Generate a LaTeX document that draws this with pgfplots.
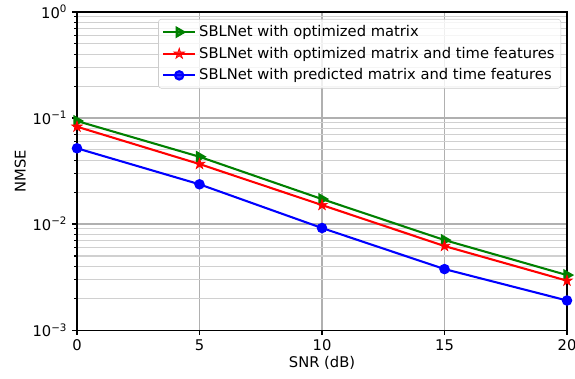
\documentclass[border=0pt]{standalone}
\usepackage{pgfplots}
\pgfplotsset{compat=1.18}
\usepackage{fontspec}
\setmainfont{DejaVu Sans}
\definecolor{mgreen}{HTML}{008000}
\definecolor{gridc}{HTML}{B0B0B0}
\pgfdeclareplotmark{fstar}{%
 \pgfpathmoveto{\pgfqpointpolar{90}{\pgfplotmarksize}}%
 \pgfpathlineto{\pgfqpointpolar{126}{0.382\pgfplotmarksize}}%
 \pgfpathlineto{\pgfqpointpolar{162}{\pgfplotmarksize}}%
 \pgfpathlineto{\pgfqpointpolar{198}{0.382\pgfplotmarksize}}%
 \pgfpathlineto{\pgfqpointpolar{234}{\pgfplotmarksize}}%
 \pgfpathlineto{\pgfqpointpolar{270}{0.382\pgfplotmarksize}}%
 \pgfpathlineto{\pgfqpointpolar{306}{\pgfplotmarksize}}%
 \pgfpathlineto{\pgfqpointpolar{342}{0.382\pgfplotmarksize}}%
 \pgfpathlineto{\pgfqpointpolar{18}{\pgfplotmarksize}}%
 \pgfpathlineto{\pgfqpointpolar{54}{0.382\pgfplotmarksize}}%
 \pgfpathclose\pgfusepathqfillstroke}
\begin{document}
\begin{tikzpicture}
\begin{axis}[
  width=352.8pt, height=229pt, scale only axis,
  xmin=0, xmax=20, ymin=1e-3, ymax=1,
  ymode=log,
  xtick={0,5,10,15,20},
  ytick={1e-3,1e-2,1e-1,1},
  yticklabels={10\textsuperscript{−3},10\textsuperscript{−2},10\textsuperscript{−1},10\textsuperscript{0}},
  /pgf/number format/assume math mode=true,
  tick align=outside, tick pos=left,
  major tick length=3.5pt, minor tick length=2pt,
  every tick/.style={black, line width=0.8pt},
  axis line style={line width=0.8pt},
  grid=both,
  major grid style={gridc, line width=0.8pt},
  minor grid style={gridc!60, line width=0.8pt},
  minor x tick num=0,
  xlabel={SNR (dB)}, ylabel={NMSE},
  tick label style={font=\fontsize{10.6}{12.5}\selectfont},
  label style={font=\fontsize{10.6}{12.5}\selectfont},
  xlabel style={yshift=3pt},
  ylabel style={yshift=-2pt},
  legend style={at={(0.988,0.978)}, anchor=north east, draw=gray!40, rounded corners=2pt, fill=white, fill opacity=0.8, text opacity=1, font=\fontsize{10.6}{12.5}\selectfont, inner sep=2.5pt, row sep=2pt},
  legend cell align=left,
  legend image code/.code={\draw[mark repeat=2,mark phase=2,#1] plot coordinates {(0cm,0cm) (0.41cm,0cm) (0.82cm,0cm)};},
]
\addplot[mgreen, line width=1.5pt, mark=triangle*, mark size=3.6pt, mark options={rotate=-90, solid}] coordinates {
(0,0.0937) (5,0.0431) (10,0.0172) (15,0.00706) (20,0.0033)};
\addlegendentry{SBLNet with optimized matrix}
\addplot[red, line width=1.5pt, mark=fstar, mark size=4pt, mark options={solid, line width=0.5pt, fill=red}] coordinates {
(0,0.0828) (5,0.0368) (10,0.0151) (15,0.0062) (20,0.00292)};
\addlegendentry{SBLNet with optimized matrix and time features}
\addplot[blue, line width=1.5pt, mark=*, mark size=3pt, mark options={solid}] coordinates {
(0,0.0518) (5,0.0237) (10,0.00917) (15,0.00376) (20,0.0019)};
\addlegendentry{SBLNet with predicted matrix and time features}
\coordinate (sw) at (rel axis cs:0,0);
\coordinate (ne) at (rel axis cs:1,1);
\end{axis}
\pgfresetboundingbox
\path ([xshift=-55.44pt,yshift=-34.56pt]sw) rectangle ([xshift=5.76pt,yshift=8.64pt]ne);
\end{tikzpicture}
\end{document}
